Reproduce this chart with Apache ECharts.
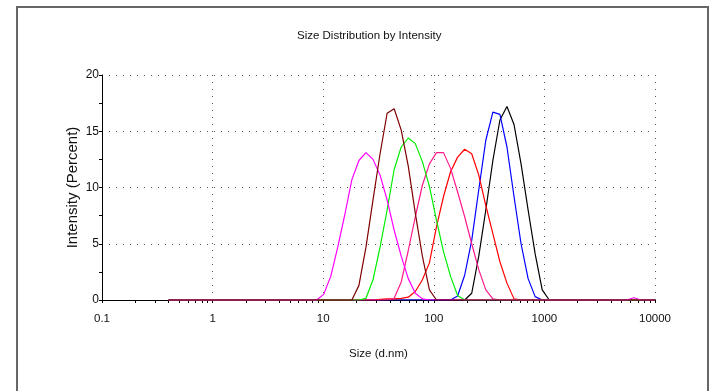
<!DOCTYPE html>
<html>
<head>
<meta charset="utf-8">
<script src="https://cdn.jsdelivr.net/npm/echarts@6/dist/echarts.min.js"></script>
<style>
  html, body { margin: 0; padding: 0; background: #fff; }
  #chart { width: 712px; height: 391px; }
</style>
</head>
<body>
<div id="chart"></div>
<script>
// size bins (d.nm)
var sizes = [0.4, 0.4632, 0.5365, 0.6213, 0.7195, 0.8332, 0.9649, 1.117, 1.294, 1.499,
  1.736, 2.01, 2.328, 2.696, 3.122, 3.615, 4.187, 4.849, 5.615, 6.503,
  7.531, 8.721, 10.1, 11.7, 13.54, 15.69, 18.17, 21.04, 24.36, 28.21,
  32.67, 37.84, 43.82, 50.75, 58.77, 68.06, 78.82, 91.28, 105.7, 122.4,
  141.8, 164.2, 190.1, 220.2, 255, 295.3, 342, 396.1, 458.7, 531.2,
  615.1, 712.4, 825, 955.4, 1106, 1281, 1484, 1718, 1990, 2305,
  2669, 3091, 3580, 4145, 4801, 5560, 6439, 7456, 8635, 10000];

// intensity (%) per bin, one array per record
var magenta = [0, 0, 0, 0, 0, 0, 0, 0, 0, 0,
  0, 0, 0, 0, 0, 0, 0, 0, 0, 0,
  0, 0, 0.5, 2.1, 4.7, 7.6, 10.7, 12.4, 13.1, 12.5,
  11.1, 8.9, 6.2, 3.9, 1.9, 0.6, 0.1, 0, 0, 0,
  0, 0, 0, 0, 0, 0, 0, 0, 0, 0,
  0, 0, 0, 0, 0, 0, 0, 0, 0, 0,
  0, 0, 0, 0, 0, 0, 0.2, 0, 0, 0];
var maroon = [0, 0, 0, 0, 0, 0, 0, 0, 0, 0,
  0, 0, 0, 0, 0, 0, 0, 0, 0, 0,
  0, 0, 0, 0, 0, 0, 0, 1.3, 4.7, 8.9,
  13.0, 16.6, 17.0, 15.1, 11.9, 7.7, 3.9, 0.9, 0, 0,
  0, 0, 0, 0, 0, 0, 0, 0, 0, 0,
  0, 0, 0, 0, 0, 0, 0, 0, 0, 0,
  0, 0, 0, 0, 0, 0, 0, 0, 0, 0];
var green = [0, 0, 0, 0, 0, 0, 0, 0, 0, 0,
  0, 0, 0, 0, 0, 0, 0, 0, 0, 0,
  0, 0, 0, 0, 0, 0, 0, 0, 0.15, 1.8,
  4.7, 8.0, 11.6, 13.6, 14.4, 13.9, 12.3, 10.1, 7.1, 4.3,
  2.1, 0.4, 0, 0, 0, 0, 0, 0, 0, 0,
  0, 0, 0, 0, 0, 0, 0, 0, 0, 0,
  0, 0, 0, 0, 0, 0, 0, 0, 0, 0];
var pink = [0, 0, 0, 0, 0, 0, 0, 0, 0, 0,
  0, 0, 0, 0, 0, 0, 0, 0, 0, 0,
  0, 0, 0, 0, 0, 0, 0, 0, 0, 0,
  0, 0, 0.15, 1.6, 4.4, 7.4, 10.2, 12.1, 13.1, 13.1,
  11.7, 9.6, 7.4, 5.0, 2.7, 0.9, 0.1, 0, 0, 0,
  0, 0, 0, 0, 0, 0, 0, 0, 0, 0,
  0, 0, 0, 0, 0, 0, 0, 0, 0, 0];
var red = [0, 0, 0, 0, 0, 0, 0, 0, 0, 0,
  0, 0, 0, 0, 0, 0, 0, 0, 0, 0,
  0, 0, 0, 0, 0, 0, 0, 0, 0, 0,
  0.05, 0.1, 0.1, 0.15, 0.25, 0.75, 1.8, 3.3, 6.5, 9.2,
  11.4, 12.7, 13.4, 13.0, 11.1, 8.4, 5.9, 3.4, 1.5, 0.1,
  0, 0, 0, 0, 0, 0, 0, 0, 0, 0,
  0, 0, 0, 0, 0, 0, 0, 0, 0, 0];
var blue = [0, 0, 0, 0, 0, 0, 0, 0, 0, 0,
  0, 0, 0, 0, 0, 0, 0, 0, 0, 0,
  0, 0, 0, 0, 0, 0, 0, 0, 0, 0,
  0, 0, 0, 0, 0, 0, 0, 0, 0, 0,
  0, 0.35, 2.2, 5.3, 9.8, 14.2, 16.7, 16.5, 13.6, 9.2,
  5.0, 1.9, 0.3, 0, 0, 0, 0, 0, 0, 0,
  0, 0, 0, 0, 0, 0, 0, 0, 0, 0];
var black = [0, 0, 0, 0, 0, 0, 0, 0, 0, 0,
  0, 0, 0, 0, 0, 0, 0, 0, 0, 0,
  0, 0, 0, 0, 0, 0, 0, 0, 0, 0,
  0, 0, 0, 0, 0, 0, 0, 0, 0, 0,
  0, 0, 0, 0.6, 3.9, 8.0, 12.4, 16.0, 17.2, 15.6,
  12.1, 8.0, 4.1, 0.9, 0, 0, 0, 0, 0, 0,
  0, 0, 0, 0, 0, 0, 0, 0, 0, 0];

var xDecades = [0.1, 1, 10, 100, 1000, 10000];
var xLabels = ['0.1', '1', '10', '100', '1000', '10000'];

// minor tick positions 2..9 x each decade
var xMinorTicks = [];
for (var d = 0; d < xDecades.length - 1; d++) {
  for (var k = 2; k < 10; k++) xMinorTicks.push(+(xDecades[d] * k).toPrecision(4));
}

function pairs(vals) {
  return sizes.map(function (s, i) { return [s, vals[i]]; });
}

var records = [
  { data: black, color: '#000000' },
  { data: blue, color: '#0000ff' },
  { data: red, color: '#ff0000' },
  { data: pink, color: '#ff1a8c' },
  { data: green, color: '#00ee00' },
  { data: magenta, color: '#ff00ff' },
  { data: maroon, color: '#800000' }
];

var chart = echarts.init(document.getElementById('chart'));
var font = 'Liberation Sans, Arial, sans-serif';
var grid = { color: '#555', type: [1, 6], width: 1 };

chart.setOption({
  animation: false,
  title: {
    text: 'Size Distribution by Intensity',
    left: 292,
    top: 25,
    textStyle: { fontFamily: font, fontSize: 11.5, fontWeight: 'normal', color: '#111' }
  },
  graphic: [{
    type: 'rect',
    shape: { x: 17, y: 7, width: 691, height: 500 },
    style: { fill: 'none', stroke: '#666', lineWidth: 2 },
    silent: true
  }],
  grid: { left: 102, top: 75, right: 57, bottom: 91 },
  xAxis: [{
    type: 'log',
    logBase: 10,
    min: 0.1,
    max: 10000,
    name: 'Size (d.nm)',
    nameLocation: 'middle',
    nameGap: 48,
    nameMoveOverlap: false,
    nameTextStyle: { fontFamily: font, fontSize: 11.5, color: '#111' },
    axisLine: { lineStyle: { color: '#000', width: 1 } },
    axisTick: { show: true, length: 3, lineStyle: { color: '#000' } },
    axisLabel: {
      margin: 13,
      fontFamily: font, fontSize: 11.5, color: '#111',
      formatter: function (v) { return xLabels[xDecades.indexOf(+(+v).toPrecision(6))] || ''; }
    },
    splitLine: { show: true, showMinLine: false, lineStyle: grid }
  }, {
    type: 'log',
    logBase: 10,
    min: 0.1,
    max: 10000,
    position: 'bottom',
    axisLine: { show: false },
    axisTick: { show: true, length: 3, customValues: xMinorTicks, lineStyle: { color: '#000' } },
    axisLabel: { show: false },
    splitLine: { show: false }
  }],
  yAxis: {
    type: 'value',
    min: 0,
    max: 20,
    interval: 5,
    name: 'Intensity (Percent)',
    nameLocation: 'middle',
    nameGap: 22,
    nameMoveOverlap: false,
    nameTextStyle: { fontFamily: font, fontSize: 15, color: '#111' },
    axisLine: { show: true, lineStyle: { color: '#000', width: 1 } },
    axisTick: { show: true, length: 3, lineStyle: { color: '#000' } },
    minorTick: { show: true, splitNumber: 2, length: 3, lineStyle: { color: '#000' } },
    axisLabel: { margin: 3, fontFamily: font, fontSize: 12, color: '#111' },
    splitLine: { show: true, showMinLine: false, lineStyle: grid }
  },
  series: records.map(function (r) {
    return {
      type: 'line',
      data: pairs(r.data),
      symbol: 'none',
      lineStyle: { color: r.color, width: 1.2 },
      itemStyle: { color: r.color },
      z: 3
    };
  })
});
</script>
</body>
</html>
